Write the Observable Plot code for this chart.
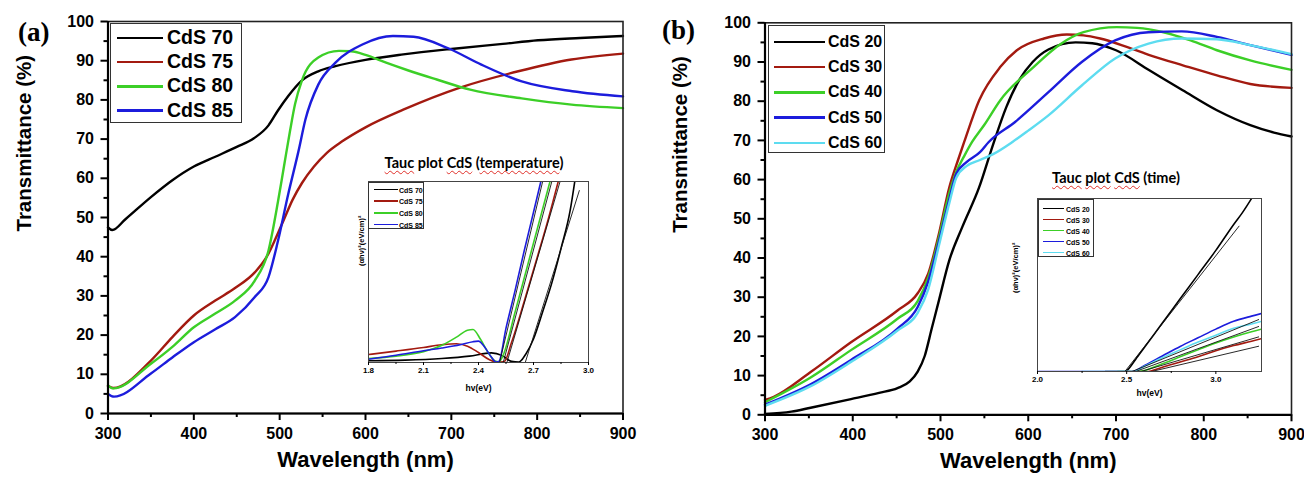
<!DOCTYPE html>
<html><head><meta charset="utf-8">
<script src="https://cdn.jsdelivr.net/npm/d3@7"></script>
<script src="https://cdn.jsdelivr.net/npm/@observablehq/plot@0.6"></script>
<style>
body{margin:0;background:#fff;}
#root{position:relative;width:1304px;height:477px;overflow:hidden;font-family:"Liberation Sans",Arial,sans-serif;background:#fff;}
#root svg{position:absolute;}
.lbl{position:absolute;font-family:"Liberation Serif","Times New Roman",serif;font-weight:bold;font-size:27px;line-height:1;transform:translateY(-50%);}
.legend{position:absolute;background:#fff;box-sizing:border-box;}
.title{position:absolute;font-family:Lato,"Open Sans",sans-serif;font-weight:bold;font-size:14.5px;line-height:1;white-space:nowrap;transform:translate(-50%,-50%);}
.sq{text-decoration:underline wavy #e0302a;text-decoration-thickness:1px;text-underline-offset:2px;}
</style></head><body><div id="root"></div>
<script>
// ---------- series names / colours ----------
const namesA = ["CdS 70", "CdS 75", "CdS 80", "CdS 85"];
const colorsA = ["#000000", "#a31a10", "#3ccf27", "#1c1cdc"];
const namesB = ["CdS 20", "CdS 30", "CdS 40", "CdS 50", "CdS 60"];
const colorsB = ["#000000", "#a31a10", "#3ccf27", "#1c1cdc", "#5ddcf0"];

// ---------- panel (a): transmittance (%) vs wavelength (nm) ----------
const cds70 = [[300,47.5],[305,46.8],[320,49.5],[350,55.2],[375,59.5],[400,63],[425,65.5],[450,68],[470,70.2],[487,73.5],[498,77.3],[510,81],[526,85],[545,87.3],[565,88.6],[600,90.2],[644,91.6],[700,93],[760,94.3],[801,95.2],[850,95.8],[900,96.3]];
const cds75 = [[300,7],[306,6.5],[350,13.5],[375,19.5],[400,25],[425,28.8],[448,32],[471,36],[485,40],[495,44.5],[505,49.5],[515,54.5],[526,58.8],[540,63],[555,66.5],[572,69.3],[600,73],[644,77.5],[711,83.2],[778,87.3],[840,90.3],[900,91.8]];
const cds80 = [[300,7.2],[306,6.4],[350,12.7],[375,17],[400,22],[425,25.5],[448,28.8],[471,33.9],[487,41.6],[498,54],[505,63],[512,72],[518,79],[526,85],[545,90.8],[569,92.5],[583,92.4],[600,91.5],[624,89.5],[650,87.5],[683,85.2],[722,82.6],[782,80.4],[840,78.8],[900,77.9]];
const cds85 = [[300,5],[307,4.3],[350,10.2],[375,14.3],[400,18.2],[425,21.5],[448,24.6],[471,29.7],[487,34.8],[498,44],[510,56],[522,67],[530,75],[545,83.9],[565,89.5],[597,94.2],[632,96.3],[656,96.1],[695,93.3],[735,89],[782,84.7],[841,82.2],[900,80.9]];

// ---------- panel (b) ----------
const cds20 = [[300,0.2],[330,0.8],[352,1.8],[398,4],[430,5.6],[451,6.8],[465,8.5],[474,11],[482,15],[490,22],[498,29],[510,39.4],[525,48],[544,58],[560,69],[575,78.5],[590,85.5],[605,90],[623,93.2],[654,95],[673,94.8],[700,93],[738,87.9],[776,82.8],[815,77.7],[853,73.9],[880,72],[900,71]];
const cds30 = [[300,3.8],[310,4.6],[352,10.9],[398,18.5],[451,26.6],[474,31],[486,36],[498,46],[510,58],[520,65],[527,69.6],[544,80.2],[568,88.7],[587,93],[618,96],[644,97],[663,96.8],[682,96],[713,93.8],[739,91.7],[777,89.1],[815,86.6],[853,84.4],[900,83.4]];
const cds40 = [[300,3.2],[352,9.5],[398,16.5],[451,24.5],[474,29],[486,35],[498,45],[510,56.5],[518,62],[527,66],[536,69.6],[550,74],[568,80.2],[606,88.7],[637,94.6],[663,97.6],[701,98.9],[724,98.7],[754,97.6],[785,95.5],[815,93],[853,90.4],[900,88]];
const cds50 = [[300,2.6],[352,7.8],[398,14],[451,22],[474,27.5],[486,34],[498,44],[510,55],[518,61.5],[530,64.5],[545,67],[555,69.6],[585,74.7],[623,82.3],[661,90],[699,95.5],[737,97.6],[775,97.8],[815,96.4],[853,94.3],[900,91.8]];
const cds60 = [[300,2.3],[352,7.3],[398,13.5],[451,21.5],[474,26],[486,32],[498,43],[510,54],[518,60.5],[530,63.5],[545,65],[560,66.5],[582,69.6],[600,72.5],[623,76.4],[661,84],[699,90.9],[737,94.7],[775,96],[815,95.8],[853,94.3],[900,92]];

// ---------- inset (a): Tauc plot (temperature), hv (eV) vs arbitrary units ----------
const taucA70 = [[1.8,1.0],[2.0,1.3],[2.2,2.2],[2.35,3.5],[2.47,5.3],[2.53,3.8],[2.58,0.6],[2.62,0.3],[2.66,5],[2.7,13],[2.75,28],[2.8,44],[2.85,63],[2.9,84],[2.925,100]];
const taucA75 = [[1.8,4.4],[1.95,6.3],[2.1,8.3],[2.2,9.8],[2.28,10.4],[2.34,9],[2.4,5.5],[2.46,1.5],[2.5,0.2],[2.54,0.5],[2.58,11],[2.65,34],[2.72,58],[2.78,79],[2.835,100]];
const taucA80 = [[1.8,2.2],[1.95,3.5],[2.1,6],[2.2,9.5],[2.28,14],[2.34,17.8],[2.37,18.2],[2.41,13],[2.45,6],[2.49,0.8],[2.51,0.3],[2.53,3],[2.6,28],[2.7,66],[2.79,100]];
const taucA85 = [[1.8,1.8],[1.95,4],[2.1,6.5],[2.2,8],[2.3,9.8],[2.37,11.5],[2.4,11.8],[2.43,9],[2.47,3],[2.495,0.3],[2.51,0.5],[2.55,19],[2.6,40],[2.65,62],[2.7,83],[2.74,100]];
const fitA70 = [[2.655,0],[2.95,95]];
const fitA75 = [[2.555,0],[2.845,100]];
const fitA80 = [[2.535,0],[2.80,100]];
const fitA85 = [[2.515,0],[2.75,100]];

// ---------- inset (b): Tauc plot (time) ----------
const taucB20 = [[2.38,0],[2.49,0],[2.5,0.5],[2.55,7],[2.6,14],[2.7,28],[2.8,42],[2.9,56],[3.0,70],[3.1,85],[3.15,92],[3.2,100]];
const taucB30 = [[2.5,0],[2.61,0],[2.7,2.5],[2.8,5.5],[2.9,8.5],[3.0,12],[3.1,15],[3.2,17.5],[3.256,19]];
const taucB40 = [[2.45,0],[2.566,0],[2.7,4.5],[2.8,8.5],[2.9,12.5],[3.0,16.5],[3.1,20],[3.2,23],[3.256,24.5]];
const taucB50 = [[2.0,0],[2.53,0],[2.6,3.5],[2.7,9],[2.8,14.5],[2.9,19.5],[3.0,24.5],[3.1,29],[3.2,32],[3.256,33.5]];
const taucB60 = [[2.25,0],[2.54,0],[2.6,3],[2.7,8],[2.8,12.5],[2.9,17],[3.0,21],[3.1,25],[3.2,27.5],[3.256,29]];
const fitB20 = [[2.49,0],[3.13,84]];
const fitB30 = [[2.64,0],[3.24,14.6]];
const fitB40 = [[2.58,0],[3.24,20]];
const fitB60 = [[2.55,0],[3.24,26]];
const fitB50 = [[2.53,0],[3.24,30]];

// ---------- tick values ----------
const wlMajor = [300,400,500,600,700,800,900];
const wlMinor = [350,450,550,650,750,850];
const tMajor = [0,10,20,30,40,50,60,70,80,90,100];
const tMinor = [5,15,25,35,45,55,65,75,85,95];
const evTicksA = [1.8,2.1,2.4,2.7,3.0];
const evMinorA = [1.95,2.25,2.55,2.85];
const evTicksB = [2.0,2.5,3.0];
const evMinorB = [2.25,2.75];

const tidy = (names, arrays) => names.flatMap((n, i) => arrays[i].map(([x, y]) => ({series: n, x, y})));

const root = document.getElementById("root");
const FONT = '"Liberation Sans", Arial, sans-serif';

function mainPlot({rows, names, colors, left, width, mL, mR, mT, mB, yDx, yDy, xDy}) {
  const svg = Plot.plot({
    width, height: 477, marginLeft: mL, marginRight: mR, marginTop: mT, marginBottom: mB,
    style: {fontFamily: FONT, fontWeight: "bold", background: "transparent", overflow: "visible", color: "#000"},
    x: {domain: [300, 900]},
    y: {domain: [0, 100]},
    color: {domain: names, range: colors},
    marks: [
      Plot.line(rows, {x: "x", y: "y", z: "series", stroke: "series", strokeWidth: 2.4, curve: "monotone-x"}),
      Plot.frame({stroke: "#222", strokeWidth: 1.6}),
      Plot.ruleX([300], {stroke: "#000", strokeWidth: 2.2}),
      Plot.ruleY([0], {stroke: "#000", strokeWidth: 2.2}),
      Plot.axisX({ticks: wlMajor, tickSize: 7, tickPadding: 7, fontSize: 16, strokeWidth: 2, label: null}),
      Plot.axisX({ticks: wlMinor, tickSize: 4, strokeWidth: 2, tickFormat: () => "", label: null}),
      Plot.axisY({ticks: tMajor, tickSize: 7, tickPadding: 7, fontSize: 16, strokeWidth: 2, label: null}),
      Plot.axisY({ticks: tMinor, tickSize: 4, strokeWidth: 2, tickFormat: () => "", label: null}),
      Plot.text(["Wavelength (nm)"], {text: d => d, frameAnchor: "bottom", dy: xDy, fontSize: 22, fontWeight: "bold"}),
      Plot.text(["Transmittance (%)"], {text: d => d, frameAnchor: "left", dx: yDx, dy: yDy, rotate: -90, fontSize: 20.5, fontWeight: "bold"})
    ]
  });
  svg.style.left = left + "px"; svg.style.top = "0px";
  root.appendChild(svg);
}

function insetPlot({rows, fits, names, colors, left, top, width, height, mL, mR, mT, mB, domain, ticks, minor, yDx, yDy, xDy}) {
  const svg = Plot.plot({
    width, height, marginLeft: mL, marginRight: mR, marginTop: mT, marginBottom: mB,
    style: {fontFamily: FONT, fontWeight: "bold", background: "transparent", overflow: "visible", color: "#000"},
    x: {domain},
    y: {domain: [0, 100], axis: null},
    color: {domain: names, range: colors},
    marks: [
      Plot.line(rows, {x: "x", y: "y", z: "series", stroke: "series", strokeWidth: 1.6, curve: "monotone-x", clip: true}),
      Plot.line(fits, {x: "x", y: "y", z: "series", stroke: "#111", strokeWidth: 0.9, clip: true}),
      Plot.frame({stroke: "#444", strokeWidth: 1}),
      Plot.axisX({ticks, tickSize: 3, tickPadding: 2, fontSize: 8, tickFormat: d => d.toFixed(1), label: null}),
      Plot.axisX({ticks: minor, tickSize: 2, tickFormat: () => "", label: null}),
      Plot.text(["hv(eV)"], {text: d => d, frameAnchor: "bottom", dy: xDy, fontSize: 8.5, fontWeight: "bold"}),
      Plot.text(["(αhν)²(eV/cm)²"], {text: d => d, frameAnchor: "left", dx: yDx, dy: yDy, rotate: -90, fontSize: 7.5, fontWeight: "bold"})
    ]
  });
  svg.style.left = left + "px"; svg.style.top = top + "px";
  root.appendChild(svg);
}

function legend({names, colors, left, top, width, height, first, step, swLeft, swWidth, textLeft, fontSize, lw, border}) {
  const box = document.createElement("div");
  box.className = "legend";
  box.style.cssText += `left:${left}px;top:${top}px;width:${width}px;height:${height}px;border:${border}px solid #333;`;
  names.forEach((n, i) => {
    const c = first + i * step;
    const sw = document.createElement("div");
    sw.style.cssText = `position:absolute;left:${swLeft}px;top:${c - lw / 2}px;width:${swWidth}px;height:${lw}px;background:${colors[i]};`;
    const tx = document.createElement("div");
    tx.textContent = n;
    tx.style.cssText = `position:absolute;left:${textLeft}px;top:${c}px;transform:translateY(-50%);font-size:${fontSize}px;font-weight:bold;line-height:1;white-space:nowrap;`;
    box.appendChild(sw); box.appendChild(tx);
  });
  root.appendChild(box);
}

function html(tag, cls, htmlText, css) {
  const el = document.createElement(tag);
  el.className = cls; el.innerHTML = htmlText; el.style.cssText += css;
  root.appendChild(el);
}

// main panels
mainPlot({rows: tidy(namesA, [cds70, cds75, cds80, cds85]), names: namesA, colors: colorsA,
  left: 0, width: 650, mL: 107.5, mR: 27.5, mT: 21, mB: 64, yDx: -84, yDy: 14, xDy: 53});
mainPlot({rows: tidy(namesB, [cds20, cds30, cds40, cds50, cds60]), names: namesB, colors: colorsB,
  left: 650, width: 654, mL: 114.5, mR: 13, mT: 22.3, mB: 62.7, yDx: -84.5, yDy: 14, xDy: 52.7});

// legends of main panels
legend({names: namesA, colors: colorsA, left: 110, top: 23, width: 132, height: 100, first: 14, step: 24.2,
  swLeft: 6, swWidth: 46, textLeft: 56, fontSize: 19.5, lw: 2.4, border: 1.5});
legend({names: namesB, colors: colorsB, left: 768, top: 25, width: 117, height: 128, first: 16, step: 25.2,
  swLeft: 5, swWidth: 51, textLeft: 59, fontSize: 16, lw: 2.4, border: 1.5});

// insets
insetPlot({rows: tidy(namesA, [taucA70, taucA75, taucA80, taucA85]),
  fits: tidy(namesA, [fitA70, fitA75, fitA80, fitA85]), names: namesA, colors: colorsA,
  left: 340, top: 175, width: 260, height: 225, mL: 28, mR: 12, mT: 6, mB: 38,
  domain: [1.8, 3.0], ticks: evTicksA, minor: evMinorA, yDx: -7, yDy: -6, xDy: 28});
insetPlot({rows: tidy(namesB, [taucB20, taucB30, taucB40, taucB50, taucB60]),
  fits: tidy(namesB, [fitB20, fitB30, fitB40, fitB50, fitB60]), names: namesB, colors: colorsB,
  left: 1000, top: 190, width: 275, height: 215, mL: 37, mR: 14, mT: 8, mB: 34,
  domain: [2.0, 3.256], ticks: evTicksB, minor: evMinorB, yDx: -22, yDy: 8, xDy: 24});

legend({names: namesA, colors: colorsA, left: 368, top: 182, width: 56, height: 47, first: 6.5, step: 11.7,
  swLeft: 5, swWidth: 24, textLeft: 30, fontSize: 7, lw: 1.5, border: 1});
legend({names: namesB, colors: colorsB, left: 1038, top: 199, width: 56, height: 58, first: 8.5, step: 11,
  swLeft: 4, swWidth: 21, textLeft: 27, fontSize: 7, lw: 1.5, border: 1});

// inset titles
html("div", "title", '<span class="sq">Tauc</span> plot <span class="sq">CdS</span> (<span class="sq">temperature</span>)', "left:474px;top:163px;");
html("div", "title", '<span class="sq">Tauc</span> <span class="sq">plot</span> <span class="sq">CdS</span> (time)', "left:1116px;top:178px;");

// panel labels
html("div", "lbl", "(a)", "left:18px;top:32px;");
html("div", "lbl", "(b)", "left:662px;top:30px;");
</script></body></html>
